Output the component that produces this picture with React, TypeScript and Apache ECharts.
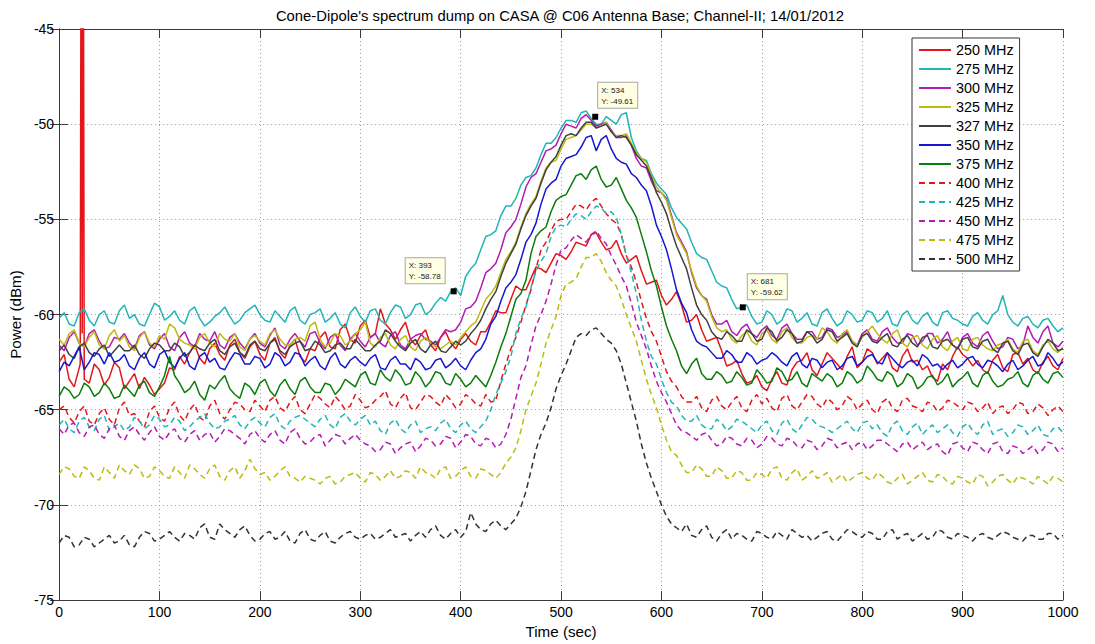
import React, { useEffect, useRef } from "react";
import * as echarts from "echarts";

const TITLE = "Cone-Dipole's spectrum dump on CASA @ C06 Antenna Base; Channel-II; 14/01/2012";
const X_NAME = "Time (sec)";
const Y_NAME = "Power (dBm)";

// sample times (s): main grid every 10 s, and the in-between samples at 5, 15, ...
const T = Array.from({ length: 101 }, (_, i) => i * 10);
const T_MID = Array.from({ length: 100 }, (_, i) => i * 10 + 5);

// extra samples of the 250 MHz trace around its spike
const SPIKE_T = [21, 22, 23, 24];
const SPIKE_V = [-62.6, -35, -61.0, -35];

const S250 = [
  -62.5, -63.4, -62.8, -63.6, -62.9, -63.3, -62.8, -63.5, -63.9, -63.7,
  -63.9, -62.8, -62.2, -62.0, -62.3, -61.8, -62.1, -61.6, -62.0, -61.7,
  -62.1, -61.5, -62.0, -61.6, -62.2, -61.8, -61.2, -61.7, -60.8, -61.3,
  -60.6, -61.2, -59.7, -60.8, -60.8, -61.3, -61.1, -61.6, -61.2, -61.5,
  -61.3, -61.4, -60.9, -60.4, -59.9, -59.2, -58.7, -58.1, -57.6, -57.3,
  -56.9, -56.7, -56.3, -55.8, -56.2, -56.5, -56.8, -57.1, -57.7, -58.3,
  -59.0, -59.2, -59.5, -60.3, -60.8, -61.3, -61.9, -62.6, -63.1, -63.5,
  -63.8, -63.4, -63.6, -62.9, -62.4, -62.9, -62.6, -62.3, -62.9, -61.7,
  -62.5, -62.0, -62.3, -62.8, -62.2, -62.5, -62.9, -63.3, -62.6, -62.2,
  -62.1, -62.7, -62.9, -62.4, -62.8, -62.1, -62.6, -62.9, -62.5, -62.7,
  -62.3,
];
const S250_MID = [
  -62.1, -63.8, -63.4, -62.6, -63.7, -62.5, -63.9, -63.1, -63.3, -64.2,
  -63.6, -62.9, -62.6, -61.6, -62.6, -61.5, -62.4, -61.3, -62.3, -61.4,
  -62.4, -61.2, -62.3, -61.3, -62.5, -61.9, -60.9, -61.8, -60.5, -61.5,
  -60.3, -61.0, -60.5, -61.3, -60.4, -61.6, -60.8, -61.9, -60.9, -61.8,
  -61.0, -61.6, -60.9, -59.8, -59.9, -58.5, -58.7, -57.5, -57.8, -56.8,
  -57.1, -56.2, -56.4, -55.7, -56.6, -56.1, -57.3, -56.9, -58.4, -58.2,
  -59.5, -58.8, -60.4, -60.0, -61.4, -61.2, -62.7, -62.4, -63.6, -63.2,
  -64.0, -63.0, -63.7, -62.5, -62.0, -63.2, -62.0, -62.6, -62.2, -62.8,
  -61.8, -62.6, -62.0, -63.0, -61.8, -62.4, -62.7, -63.5, -62.9, -61.7,
  -62.3, -62.4, -63.1, -62.1, -63.0, -62.0, -62.3, -63.1, -62.2, -62.9,
];
const S275 = [
  -60.2, -60.5, -59.9, -60.3, -60.0, -60.4, -59.8, -60.2, -60.5, -60.0,
  -59.6, -60.1, -60.3, -59.8, -60.2, -60.4, -59.9, -60.1, -60.3, -59.7,
  -60.0, -60.4, -60.1, -59.8, -60.3, -60.0, -59.7, -60.2, -60.5, -59.9,
  -60.1, -59.8, -60.3, -59.9, -59.6, -60.0, -59.4, -59.8, -59.1, -58.8,
  -59.0, -57.6, -56.6, -55.8, -54.8, -54.3, -53.2, -52.7, -51.6, -51.0,
  -50.2, -49.8, -49.4, -49.7, -50.0, -49.8, -49.5, -50.7, -51.8, -52.6,
  -53.4, -54.4, -55.2, -56.2, -57.0, -57.7, -58.5, -59.2, -59.6, -60.1,
  -60.4, -60.0, -60.3, -59.8, -60.2, -60.5, -59.9, -60.2, -60.4, -60.0,
  -60.3, -59.9, -60.2, -60.5, -60.0, -60.3, -60.1, -60.4, -59.9, -60.2,
  -60.5, -60.1, -60.3, -60.0, -59.0, -60.4, -60.2, -60.5, -60.3, -60.6,
  -60.7,
];
const S275_MID = [
  -59.9, -60.6, -59.7, -60.6, -59.8, -60.5, -59.5, -60.0, -60.6, -59.4,
  -60.3, -59.8, -60.5, -59.6, -60.6, -60.1, -59.6, -60.5, -59.9, -59.5,
  -60.3, -59.8, -60.4, -59.6, -60.5, -59.9, -60.4, -59.9, -60.7, -59.6,
  -60.4, -59.7, -60.5, -59.5, -60.2, -59.5, -60.0, -59.4, -59.3, -58.6,
  -58.0, -57.3, -55.9, -55.6, -54.3, -53.9, -52.8, -52.3, -51.0, -50.7,
  -49.8, -49.9, -49.3, -50.0, -49.6, -50.0, -49.4, -51.4, -51.9, -53.1,
  -53.7, -54.9, -55.5, -56.8, -57.1, -58.3, -58.6, -59.7, -59.5, -60.5,
  -59.8, -60.5, -59.7, -60.4, -59.9, -60.6, -59.7, -60.6, -59.8, -60.4,
  -59.8, -60.4, -59.8, -60.6, -59.8, -60.5, -59.9, -60.6, -59.8, -60.3,
  -60.6, -59.9, -60.5, -59.8, -60.0, -60.6, -60.1, -60.7, -60.2, -60.9,
];
const S300 = [
  -61.6, -61.2, -61.5, -61.0, -61.4, -61.7, -61.3, -61.5, -61.1, -61.6,
  -61.3, -61.7, -61.2, -61.5, -61.0, -61.4, -61.6, -61.2, -61.5, -61.3,
  -61.5, -61.1, -61.6, -61.3, -61.4, -61.0, -61.5, -61.2, -61.6, -61.3,
  -61.4, -61.2, -61.5, -61.1, -61.6, -61.3, -61.0, -61.4, -61.2, -60.9,
  -60.4, -59.6, -58.6, -57.6, -56.6, -55.4, -54.2, -52.8, -52.0, -51.3,
  -50.5, -50.1, -49.7, -49.8, -50.0, -50.3, -50.7, -51.1, -52.2, -53.0,
  -53.6, -54.8, -56.2, -57.8, -59.0, -60.0, -60.5, -60.9, -60.7, -61.0,
  -60.8, -61.1, -60.7, -61.0, -61.3, -60.9, -61.2, -60.8, -61.1, -61.4,
  -61.0, -61.3, -60.9, -61.2, -61.5, -61.1, -61.4, -61.0, -61.3, -61.6,
  -61.2, -61.5, -61.1, -61.4, -61.7, -61.3, -61.6, -61.2, -60.9, -61.5,
  -61.4,
];
const S300_MID = [
  -61.9, -60.9, -61.7, -60.8, -61.8, -61.2, -61.0, -61.8, -60.9, -61.8,
  -61.0, -61.9, -60.9, -61.7, -61.3, -60.9, -61.8, -61.0, -61.8, -61.0,
  -61.7, -60.7, -61.8, -61.0, -61.7, -60.9, -61.8, -61.0, -61.9, -61.0,
  -61.7, -61.0, -61.7, -60.9, -61.8, -61.1, -61.3, -61.6, -60.8, -60.8,
  -59.7, -59.3, -57.8, -57.3, -55.7, -55.0, -53.3, -52.6, -51.4, -51.1,
  -50.0, -50.2, -49.5, -50.1, -49.9, -50.7, -50.6, -51.8, -52.3, -53.5,
  -53.9, -55.7, -56.7, -58.6, -59.2, -60.5, -60.3, -61.1, -60.5, -61.2,
  -60.6, -61.3, -60.5, -61.3, -60.9, -61.3, -60.7, -61.2, -60.9, -61.6,
  -60.8, -61.4, -60.7, -61.5, -61.0, -61.6, -61.0, -61.5, -60.9, -61.8,
  -61.0, -61.7, -60.9, -61.8, -61.2, -61.8, -60.6, -61.5, -60.6, -61.7,
];
const S325 = [
  -61.3, -61.0, -61.5, -61.2, -61.6, -61.1, -61.4, -61.7, -61.2, -61.5,
  -61.1, -60.5, -61.3, -61.6, -61.2, -61.5, -61.0, -61.4, -61.7, -61.3,
  -61.4, -61.0, -61.3, -61.6, -61.2, -60.6, -61.3, -61.5, -61.1, -61.4,
  -60.8, -61.5, -61.2, -61.6, -61.3, -61.7, -61.4, -61.5, -61.8, -61.4,
  -61.2, -60.6, -59.8, -58.9, -57.8, -56.7, -55.4, -54.2, -53.0, -52.0,
  -51.3, -50.7, -50.3, -50.0, -50.1, -50.4, -50.6, -51.0, -51.8, -52.7,
  -53.6, -54.9, -56.3, -57.7, -59.0, -60.1, -60.9, -61.3, -61.1, -61.4,
  -61.0, -61.3, -60.9, -61.2, -61.5, -61.1, -60.7, -61.3, -61.0, -61.4,
  -61.2, -60.6, -61.3, -61.0, -61.5, -61.2, -61.6, -61.3, -61.7, -61.4,
  -61.8, -61.3, -61.6, -61.9, -61.5, -61.8, -61.4, -61.9, -61.6, -61.8,
  -61.7,
];
const S325_MID = [
  -61.6, -60.8, -61.7, -60.9, -61.8, -60.8, -61.1, -61.9, -60.9, -61.7,
  -61.3, -60.7, -61.5, -61.8, -61.0, -61.7, -61.3, -61.0, -61.9, -61.1,
  -61.6, -60.8, -61.6, -61.3, -61.4, -60.4, -61.7, -61.0, -61.6, -61.0,
  -60.4, -61.7, -61.0, -61.8, -61.1, -61.9, -61.2, -61.7, -61.6, -61.6,
  -60.9, -60.4, -59.2, -58.5, -57.1, -56.2, -54.7, -53.8, -52.3, -51.9,
  -50.8, -50.6, -50.0, -50.2, -49.9, -50.6, -50.5, -51.5, -52.0, -53.3,
  -54.0, -55.8, -56.8, -58.5, -59.3, -60.7, -60.8, -61.5, -60.9, -61.6,
  -60.8, -61.5, -60.7, -61.5, -61.2, -61.3, -60.9, -61.5, -60.8, -61.6,
  -60.9, -61.0, -61.5, -60.8, -61.7, -61.1, -61.8, -61.1, -61.9, -61.2,
  -61.9, -61.2, -61.8, -61.6, -61.3, -62.0, -61.3, -62.1, -61.4, -62.0,
];
const S327 = [
  -61.9, -62.1, -61.7, -62.0, -61.8, -62.2, -61.6, -61.9, -62.1, -61.8,
  -61.6, -61.9, -61.7, -62.0, -61.8, -61.5, -61.9, -61.7, -62.0, -61.6,
  -61.8, -61.5, -61.9, -61.7, -61.4, -61.8, -61.6, -61.9, -61.5, -61.8,
  -61.6, -61.9, -61.4, -61.0, -61.7, -61.5, -61.8, -61.6, -61.9, -61.7,
  -61.6, -61.0, -60.3, -59.2, -58.0, -56.8, -55.5, -54.3, -53.1, -52.0,
  -51.1, -50.5, -50.2, -49.9, -50.1, -50.4, -50.6, -51.1, -51.9, -52.8,
  -54.1, -55.6, -57.0, -58.6, -60.0, -60.9, -61.3, -61.1, -61.4, -61.0,
  -61.3, -60.9, -61.2, -61.0, -61.4, -61.1, -61.3, -60.9, -61.2, -61.5,
  -61.1, -61.4, -61.2, -61.6, -61.3, -61.5, -61.2, -61.7, -61.4, -61.6,
  -61.3, -61.7, -61.4, -61.8, -61.5, -61.9, -61.6, -62.0, -61.7, -61.5,
  -61.8,
];
const S327_MID = [
  -61.6, -62.3, -61.5, -62.2, -61.6, -61.9, -61.9, -61.6, -62.3, -61.5,
  -61.9, -61.5, -62.2, -61.6, -61.9, -61.3, -62.1, -61.5, -62.2, -61.4,
  -61.9, -61.3, -62.1, -61.5, -61.9, -61.4, -62.0, -61.6, -61.8, -61.3,
  -61.9, -61.6, -60.8, -61.4, -61.9, -61.3, -62.0, -61.4, -62.0, -61.4,
  -61.4, -60.7, -59.7, -58.8, -57.3, -56.3, -54.8, -53.9, -52.4, -51.7,
  -50.6, -50.6, -49.9, -50.2, -50.0, -50.7, -50.7, -51.6, -52.2, -53.6,
  -54.7, -56.4, -57.6, -59.5, -60.3, -61.2, -60.9, -61.4, -60.8, -61.4,
  -60.7, -61.4, -60.8, -61.5, -60.9, -61.5, -60.8, -61.4, -61.0, -61.7,
  -61.0, -61.5, -61.0, -61.7, -61.1, -61.7, -61.1, -61.8, -61.3, -61.8,
  -61.2, -61.8, -61.3, -62.0, -61.4, -62.1, -61.5, -62.2, -61.3, -61.9,
];
const S350 = [
  -63.0, -62.7, -61.7, -62.5, -62.1, -62.0, -62.4, -62.7, -62.3, -62.6,
  -62.1, -62.5, -62.3, -62.7, -62.2, -62.5, -62.8, -62.4, -62.1, -62.6,
  -62.3, -62.6, -62.2, -62.5, -62.1, -62.4, -62.7, -62.3, -62.6, -62.4,
  -62.5, -62.3, -62.8, -62.4, -62.6, -62.9, -62.5, -62.8, -62.3, -62.6,
  -62.7, -62.4, -61.8, -60.5, -59.3, -58.3, -57.1, -55.8, -54.2, -53.1,
  -52.2, -51.7, -51.2, -50.6, -50.8, -51.3, -52.0, -52.6, -53.2, -54.3,
  -55.9, -57.6, -59.4, -60.8, -61.6, -62.0, -62.3, -62.1, -62.5, -62.2,
  -62.4, -62.0, -62.5, -62.2, -62.6, -62.3, -62.8, -62.4, -62.7, -62.2,
  -62.5, -62.1, -62.6, -62.3, -62.8, -62.4, -62.1, -62.7, -62.9, -62.4,
  -62.6, -62.2, -62.8, -62.5, -63.0, -62.4, -62.7, -62.2, -62.6, -62.3,
  -62.5,
];
const S350_MID = [
  -62.5, -62.2, -62.9, -62.0, -62.6, -62.5, -62.1, -62.9, -62.0, -62.8,
  -61.9, -62.8, -62.0, -62.9, -62.0, -62.3, -62.9, -62.0, -62.6, -62.2,
  -62.8, -62.0, -62.7, -62.0, -62.7, -62.2, -62.9, -62.0, -62.8, -62.2,
  -62.7, -62.1, -62.9, -62.2, -62.6, -62.3, -62.9, -62.4, -62.8, -62.3,
  -62.9, -62.0, -61.3, -60.1, -58.6, -57.9, -56.2, -55.2, -53.4, -52.9,
  -51.8, -51.6, -50.7, -51.4, -50.6, -51.8, -52.1, -52.8, -53.5, -55.3,
  -56.6, -58.7, -59.9, -61.4, -61.7, -62.3, -61.9, -62.5, -62.0, -62.6,
  -62.3, -62.2, -62.7, -62.0, -62.8, -62.4, -62.5, -62.9, -62.3, -62.7,
  -62.2, -62.5, -62.0, -62.6, -62.5, -62.7, -62.3, -62.6, -62.6, -62.8,
  -62.3, -62.6, -62.4, -62.7, -62.6, -62.9, -62.4, -62.7, -62.0, -62.7,
];
const S375 = [
  -64.3, -64.0, -64.2, -63.8, -64.1, -63.9, -64.3, -64.0, -63.7, -64.1,
  -63.8, -62.2, -63.6, -63.9, -64.2, -63.7, -63.5, -63.9, -64.4, -63.8,
  -63.6, -64.0, -63.7, -63.9, -63.5, -63.8, -64.1, -63.7, -63.9, -63.6,
  -63.2, -63.6, -62.9, -63.5, -63.2, -63.6, -63.3, -63.5, -63.1, -63.7,
  -63.4, -63.6, -63.5, -63.2, -61.7, -60.1, -58.9, -56.8, -55.6, -54.6,
  -53.8, -53.2, -52.6, -52.4, -52.9, -53.2, -53.4, -54.4, -55.8, -57.7,
  -59.6, -61.3, -62.7, -62.6, -63.1, -63.4, -63.2, -63.5, -63.3, -63.6,
  -63.2, -63.5, -63.0, -63.4, -63.6, -63.1, -63.5, -63.3, -63.6, -63.2,
  -63.4, -63.0, -63.5, -63.2, -63.6, -63.3, -63.7, -63.2, -63.5, -63.8,
  -63.3, -63.6, -63.2, -63.5, -63.7, -63.3, -63.6, -63.2, -63.4, -63.1,
  -63.3,
];
const S375_MID = [
  -63.8, -64.4, -63.6, -64.3, -63.6, -64.4, -63.7, -64.3, -63.5, -64.3,
  -63.2, -63.2, -64.1, -63.5, -64.5, -63.9, -63.2, -64.2, -63.6, -64.2,
  -63.4, -64.3, -63.4, -64.2, -63.3, -64.1, -63.6, -64.2, -63.4, -63.8,
  -63.0, -63.7, -63.3, -62.9, -63.7, -63.0, -63.8, -63.0, -63.6, -63.1,
  -63.8, -63.2, -63.8, -62.5, -61.0, -59.2, -58.2, -55.9, -55.4, -54.0,
  -53.7, -52.7, -52.9, -52.2, -53.3, -52.8, -54.0, -54.9, -56.7, -58.5,
  -60.6, -61.9, -63.1, -62.3, -63.4, -63.0, -63.6, -63.0, -63.7, -62.9,
  -63.6, -62.8, -63.5, -63.0, -63.8, -63.3, -63.1, -63.8, -63.0, -63.6,
  -62.7, -63.4, -63.0, -63.8, -63.1, -63.9, -63.3, -63.7, -63.1, -63.5,
  -63.0, -63.8, -63.0, -63.8, -63.4, -63.0, -63.8, -63.0, -63.6, -63.0,
];
const S400 = [
  -65.0, -65.4, -65.1, -65.6, -65.2, -65.5, -64.9, -65.3, -65.6, -65.1,
  -65.4, -64.9, -65.3, -65.0, -65.4, -64.8, -65.2, -65.0, -64.7, -65.1,
  -64.8, -64.5, -64.9, -64.6, -65.0, -64.7, -64.4, -64.9, -64.6, -64.8,
  -64.5, -64.8, -64.3, -64.7, -64.4, -64.9, -64.6, -64.3, -64.8, -64.5,
  -64.7, -64.4, -64.8, -64.6, -63.5, -61.8, -60.4, -58.7, -56.6, -55.6,
  -55.0, -54.6, -54.3, -54.1, -54.3, -55.0, -55.8, -57.5, -59.3, -60.9,
  -62.2, -63.5, -64.3, -64.6, -64.9, -64.5, -64.8, -64.6, -64.9, -64.5,
  -64.7, -64.9, -64.4, -64.8, -64.6, -64.3, -64.9, -64.6, -64.8, -64.5,
  -64.7, -65.0, -64.6, -64.9, -64.5, -64.8, -65.1, -64.7, -64.9, -64.6,
  -65.0, -64.7, -64.9, -65.2, -64.8, -65.0, -64.7, -65.1, -64.9, -65.0,
  -65.1,
];
const S400_MID = [
  -64.8, -65.7, -64.8, -65.8, -64.9, -65.8, -64.6, -65.2, -65.9, -64.8,
  -65.6, -64.6, -65.6, -64.7, -65.6, -64.5, -65.5, -64.6, -65.0, -64.5,
  -65.1, -64.3, -65.1, -64.3, -65.2, -64.2, -64.7, -64.3, -65.0, -64.2,
  -64.9, -64.5, -64.0, -64.9, -64.1, -65.0, -64.2, -64.6, -64.2, -64.9,
  -64.2, -64.7, -64.2, -64.5, -62.6, -61.2, -59.5, -57.6, -56.2, -55.1,
  -55.0, -54.2, -54.5, -53.9, -54.7, -55.2, -56.9, -58.3, -60.2, -61.4,
  -63.0, -63.8, -64.6, -64.3, -65.1, -64.3, -65.0, -64.3, -65.1, -64.2,
  -64.4, -65.1, -64.2, -65.0, -64.2, -64.7, -64.4, -65.0, -64.3, -65.0,
  -64.5, -65.2, -64.4, -65.1, -64.4, -64.9, -64.6, -65.1, -64.5, -64.8,
  -64.6, -65.1, -64.6, -64.9, -65.2, -64.6, -65.2, -64.7, -65.3, -64.8,
];
const S425 = [
  -65.8, -66.0, -65.6, -65.9, -65.5, -66.1, -65.7, -65.9, -65.6, -65.8,
  -65.5, -65.8, -65.6, -65.9, -65.4, -65.7, -65.9, -65.5, -65.8, -65.6,
  -65.7, -65.4, -65.8, -65.6, -65.3, -65.7, -65.5, -65.8, -65.4, -65.6,
  -65.5, -65.8, -66.1, -65.7, -66.0, -65.8, -66.2, -65.9, -65.7, -66.0,
  -65.8, -66.0, -65.9, -65.0, -63.6, -62.2, -60.2, -58.6, -57.2, -55.9,
  -55.3, -55.0, -54.8, -54.6, -54.4, -54.6, -55.8, -57.8, -60.3, -62.2,
  -63.4, -64.6, -65.3, -65.6, -65.8, -66.0, -65.7, -65.9, -65.6, -66.0,
  -65.8, -66.1, -65.7, -66.0, -65.8, -65.5, -65.9, -66.2, -65.8, -66.0,
  -65.7, -66.0, -66.2, -65.8, -66.1, -65.9, -66.3, -65.8, -66.0, -66.2,
  -65.9, -66.1, -65.8, -66.3, -66.0, -66.2, -65.9, -66.1, -66.3, -66.0,
  -66.2,
];
const S425_MID = [
  -65.5, -66.2, -65.4, -66.1, -65.3, -65.9, -66.1, -65.4, -66.0, -65.3,
  -65.9, -65.4, -66.1, -65.6, -65.2, -66.0, -65.6, -65.3, -66.0, -65.4,
  -65.9, -65.2, -66.0, -65.4, -65.5, -65.9, -65.3, -66.0, -65.2, -65.8,
  -65.3, -65.6, -66.3, -65.5, -66.2, -65.6, -66.0, -66.1, -65.5, -66.2,
  -65.6, -66.2, -65.6, -64.2, -63.0, -61.0, -59.6, -57.7, -56.8, -55.4,
  -55.4, -54.7, -55.0, -54.3, -54.7, -54.9, -56.9, -58.9, -61.4, -62.6,
  -64.1, -64.8, -65.6, -65.3, -66.0, -65.5, -66.1, -65.5, -65.8, -66.2,
  -65.6, -66.3, -65.5, -66.2, -65.4, -65.8, -66.0, -66.0, -65.6, -66.2,
  -65.6, -65.8, -66.4, -65.6, -66.3, -65.7, -66.0, -66.2, -65.8, -66.4,
  -65.7, -66.3, -65.6, -66.1, -66.4, -65.8, -66.3, -65.8, -66.4, -65.9,
];
const S450 = [
  -66.0, -65.8, -66.2, -65.9, -66.3, -66.0, -66.4, -66.1, -66.3, -66.2,
  -66.4, -66.2, -66.5, -66.3, -66.6, -66.2, -66.4, -66.1, -66.5, -66.3,
  -66.5, -66.3, -66.6, -66.2, -66.5, -66.7, -66.3, -66.6, -66.4, -66.5,
  -66.6, -66.9, -67.1, -66.8, -67.0, -66.7, -66.9, -66.6, -66.8, -66.5,
  -66.7, -66.4, -66.9, -66.6, -66.8, -65.5, -63.3, -61.6, -60.0, -58.4,
  -56.6, -56.1, -56.0, -55.8, -56.0, -56.9, -58.0, -59.4, -61.1, -62.7,
  -64.1, -65.2, -66.1, -66.4, -66.3, -66.6, -66.8, -66.5, -66.9, -66.6,
  -66.8, -66.5, -66.9, -66.6, -67.0, -66.7, -66.9, -66.6, -66.8, -67.1,
  -66.7, -66.9, -66.6, -67.0, -66.8, -67.1, -66.7, -66.9, -67.2, -66.8,
  -67.0, -66.7, -67.1, -66.8, -67.2, -66.9, -67.3, -66.9, -67.1, -66.8,
  -67.0,
];
const S450_MID = [
  -66.3, -65.7, -66.4, -65.8, -66.5, -65.8, -66.6, -65.9, -66.6, -65.9,
  -66.6, -66.0, -66.7, -66.1, -66.3, -66.7, -66.0, -66.3, -66.8, -66.1,
  -66.7, -66.1, -66.8, -66.0, -66.8, -66.4, -66.9, -66.3, -66.8, -66.3,
  -66.8, -67.2, -66.7, -67.3, -66.8, -67.2, -66.5, -66.9, -66.4, -67.0,
  -66.3, -66.8, -66.5, -67.0, -66.3, -64.4, -62.7, -60.6, -59.3, -57.4,
  -56.5, -55.8, -56.2, -55.6, -56.3, -57.4, -58.5, -60.4, -61.8, -63.5,
  -64.6, -65.8, -66.2, -66.6, -66.2, -66.9, -66.4, -66.8, -66.5, -67.0,
  -66.4, -66.8, -66.5, -66.9, -66.6, -67.1, -66.5, -67.0, -66.7, -66.8,
  -67.1, -66.6, -66.8, -67.2, -66.7, -66.9, -67.1, -66.8, -67.4, -66.7,
  -67.2, -66.8, -67.3, -66.7, -67.3, -67.0, -67.1, -67.3, -66.7, -67.2,
];
const S475 = [
  -68.4, -68.1, -68.6, -68.2, -68.7, -68.3, -67.9, -68.4, -68.1, -68.5,
  -68.2, -68.6, -68.3, -67.9, -68.4, -68.1, -68.5, -68.2, -68.6, -67.6,
  -68.4, -68.7, -68.2, -68.5, -68.8, -68.6, -68.9, -68.5, -68.8, -68.4,
  -68.6, -68.3, -68.7, -68.2, -68.5, -68.3, -68.0, -68.4, -68.1, -68.6,
  -68.2, -68.5, -68.1, -68.4, -68.3, -67.5, -66.1, -64.3, -62.6, -60.8,
  -59.0, -58.3, -57.5, -57.0, -57.2, -58.2, -59.2, -60.7, -62.4, -64.2,
  -65.8, -67.2, -67.9, -68.3, -68.1, -68.5, -68.2, -68.6, -68.3, -68.7,
  -68.4, -68.1, -68.6, -68.3, -68.7, -68.2, -68.5, -68.8, -68.4, -68.6,
  -68.3, -68.7, -68.5, -68.9, -68.4, -68.7, -68.3, -68.8, -68.5, -68.9,
  -68.6, -68.9, -68.5, -68.8, -68.4, -68.9, -68.6, -68.9, -68.7, -68.5,
  -68.8,
];
const S475_MID = [
  -68.0, -68.5, -68.0, -68.6, -68.0, -68.6, -68.2, -67.9, -68.6, -68.0,
  -68.5, -68.0, -68.6, -68.1, -68.6, -67.9, -68.7, -68.0, -68.2, -68.1,
  -68.3, -68.5, -68.0, -68.6, -68.5, -68.7, -68.6, -68.9, -68.5, -68.3,
  -68.8, -68.4, -68.5, -68.6, -68.2, -68.6, -68.3, -68.6, -68.0, -68.5,
  -68.0, -68.6, -68.2, -68.6, -67.8, -67.0, -65.0, -63.6, -61.5, -60.1,
  -58.4, -58.1, -57.0, -56.8, -57.8, -58.5, -60.0, -61.4, -63.4, -64.9,
  -66.6, -67.4, -68.3, -67.9, -68.5, -68.0, -68.6, -68.2, -68.7, -68.3,
  -68.6, -68.0, -68.7, -68.1, -68.5, -68.6, -68.3, -68.6, -68.8, -68.4,
  -68.6, -68.3, -68.8, -68.6, -68.9, -68.5, -68.7, -68.4, -68.8, -68.5,
  -68.8, -68.4, -69.0, -68.5, -68.7, -68.5, -68.7, -68.5, -68.9, -68.6,
];
const S500 = [
  -72.0, -71.7, -72.1, -71.8, -72.0, -71.6, -71.9, -72.1, -71.7, -71.5,
  -71.8, -71.4, -71.9, -71.6, -71.2, -71.7, -71.0, -71.5, -71.3, -71.6,
  -71.8, -71.4, -71.7, -71.9, -71.5, -71.8, -71.6, -71.9, -71.7, -71.4,
  -71.8, -71.5, -71.7, -71.3, -71.6, -71.9, -71.4, -71.3, -71.6, -71.5,
  -71.7, -70.4, -71.3, -71.0, -71.1, -71.0, -70.1, -68.2, -66.3, -64.9,
  -63.2, -61.9, -61.0, -60.8, -61.0, -61.5, -62.6, -64.6, -66.8, -68.6,
  -70.0, -71.0, -71.4, -71.6, -71.3, -71.7, -71.5, -71.8, -71.6, -71.9,
  -71.5, -71.8, -71.6, -71.3, -71.7, -71.9, -71.5, -71.8, -71.6, -71.4,
  -71.7, -71.5, -71.8, -71.3, -71.6, -71.9, -71.5, -71.7, -71.4, -71.8,
  -71.6, -71.9, -71.5, -71.8, -71.4, -71.7, -71.9, -71.6, -71.8, -71.5,
  -71.6,
];
const S500_MID = [
  -71.6, -72.2, -71.7, -72.2, -71.8, -72.0, -71.6, -72.2, -71.4, -71.9,
  -71.6, -71.7, -71.5, -71.8, -71.0, -71.8, -71.3, -71.7, -71.1, -71.9,
  -71.5, -71.8, -71.4, -72.0, -71.3, -71.9, -71.4, -72.0, -71.5, -71.7,
  -71.6, -71.8, -71.5, -71.7, -71.5, -71.6, -71.7, -71.1, -71.8, -71.3,
  -71.4, -71.0, -71.4, -70.8, -71.3, -70.7, -69.3, -67.1, -65.7, -63.9,
  -62.6, -61.2, -61.1, -60.7, -61.3, -61.9, -63.6, -65.6, -67.8, -69.3,
  -70.6, -71.2, -71.0, -71.7, -71.1, -71.9, -71.3, -71.5, -71.8, -71.4,
  -71.7, -71.4, -71.8, -71.5, -71.6, -71.7, -71.4, -71.9, -71.3, -71.6,
  -71.4, -71.8, -71.4, -71.8, -71.5, -71.7, -71.8, -71.3, -71.7, -71.5,
  -71.7, -71.6, -71.7, -71.6, -71.5, -71.8, -71.6, -71.8, -71.5, -71.8,
];

const NAMES = [
  "250 MHz", "275 MHz", "300 MHz", "325 MHz", "327 MHz", "350 MHz",
  "375 MHz", "400 MHz", "425 MHz", "450 MHz", "475 MHz", "500 MHz",
];
const VALUES = [S250, S275, S300, S325, S327, S350, S375, S400, S425, S450, S475, S500];
const MIDS = [
  S250_MID, S275_MID, S300_MID, S325_MID, S327_MID, S350_MID,
  S375_MID, S400_MID, S425_MID, S450_MID, S475_MID, S500_MID,
];
const COLORS = [
  "#e3161b", "#21b5b8", "#b31bb3", "#bcbc10", "#404040", "#1616cf",
  "#0b7d0b", "#e3161b", "#21b5b8", "#b31bb3", "#bcbc10", "#333333",
];
const DASHED = [false, false, false, false, false, false, false, true, true, true, true, true];

// data tips on the 275 MHz trace
const TIP_X = [393, 534, 681];
const TIP_Y = [-58.78, -49.61, -59.62];

const FONT = "'Liberation Sans', Arial, Helvetica, sans-serif";
const AXIS_COLOR = "#3a3a3a";

function buildSeries() {
  return NAMES.map((name, k) => {
    let data: number[][] = T.map((t, i) => [t, VALUES[k][i]]);
    data = data.concat(T_MID.map((t, i) => [t, MIDS[k][i]]));
    if (k === 0) data = data.concat(SPIKE_T.map((t, i) => [t, SPIKE_V[i]]));
    data.sort((a, b) => a[0] - b[0]);
    const s: any = {
      name,
      type: "line",
      data,
      symbol: "none",
      showSymbol: false,
      lineStyle: {
        color: COLORS[k],
        width: 1.5,
        type: DASHED[k] ? [6, 4] : "solid",
      },
      itemStyle: { color: COLORS[k] },
      emphasis: { disabled: true },
    };
    if (k === 1) {
      const offsets = [[-45, -30], [6, -31], [8, -30]];
      s.markPoint = {
        symbol: "rect",
        symbolSize: 6,
        itemStyle: { color: "#000" },
        z: 20,
        data: TIP_X.map((x, i) => ({
          coord: [x, TIP_Y[i]],
          label: {
            show: true,
            position: offsets[i],
            formatter: `X: ${x}\nY: ${TIP_Y[i]}`,
            fontFamily: FONT,
            fontSize: 8,
            lineHeight: 11,
            color: "#222",
            backgroundColor: "#ffffe3",
            borderColor: "#a8a8a0",
            borderWidth: 1,
            padding: [2, 4, 1, 3],
          },
        })),
      };
    }
    return s;
  });
}

export default function App() {
  const ref = useRef<HTMLDivElement>(null);
  useEffect(() => {
    if (!ref.current) return;
    const chart = echarts.init(ref.current, null, { renderer: "svg" });
    const tick = { show: true, inside: true, length: 9, lineStyle: { color: AXIS_COLOR, width: 1 } };
    const line = { show: true, lineStyle: { color: AXIS_COLOR, width: 1 } };
    const grid = { show: true, lineStyle: { color: "#9a9a9a", width: 1, type: [1, 3] } };
    chart.setOption({
      animation: false,
      backgroundColor: "#ffffff",
      textStyle: { fontFamily: FONT },
      title: {
        text: TITLE,
        left: 555,
        top: 3,
        textAlign: "center",
        textStyle: { fontFamily: FONT, fontSize: 14.8, fontWeight: "normal", color: "#000" },
      },
      legend: {
        orient: "vertical",
        left: 912,
        top: 38,
        padding: [5, 6, 5, 6],
        itemWidth: 32,
        itemHeight: 12,
        itemGap: 5,
        backgroundColor: "#ffffff",
        borderColor: "#333",
        borderWidth: 1,
        borderRadius: 0,
        itemStyle: { opacity: 0 },
        textStyle: { fontFamily: FONT, fontSize: 14.4, color: "#000" },
        data: NAMES,
        z: 30,
      },
      grid: { left: 56, top: 29, width: 1007, height: 576, containLabel: false },
      xAxis: [
        {
          type: "value",
          position: "bottom",
          min: 0,
          max: 1000,
          interval: 100,
          name: X_NAME,
          nameLocation: "middle",
          nameGap: 20,
          nameTextStyle: { fontFamily: FONT, fontSize: 15.2, color: "#000" },
          axisLine: line,
          axisTick: tick,
          axisLabel: {
            fontFamily: FONT,
            fontSize: 14,
            color: "#000",
            margin: 5,
            formatter: (v: number) => String(v),
          },
          splitLine: grid,
        },
        {
          type: "value",
          position: "top",
          min: 0,
          max: 1000,
          interval: 100,
          axisLine: line,
          axisTick: tick,
          axisLabel: { show: false },
          splitLine: { show: false },
        },
      ],
      yAxis: [
        {
          type: "value",
          position: "left",
          min: -75,
          max: -45,
          interval: 5,
          name: Y_NAME,
          nameLocation: "middle",
          nameGap: 32,
          nameTextStyle: { fontFamily: FONT, fontSize: 15.2, color: "#000" },
          axisLine: line,
          axisTick: tick,
          axisLabel: { fontFamily: FONT, fontSize: 14, color: "#000", margin: 5 },
          splitLine: grid,
        },
        {
          type: "value",
          position: "right",
          min: -75,
          max: -45,
          interval: 5,
          axisLine: line,
          axisTick: tick,
          axisLabel: { show: false },
          splitLine: { show: false },
        },
      ],
      series: buildSeries(),
    });
    return () => chart.dispose();
  }, []);
  return (
    <div
      ref={ref}
      style={{ position: "fixed", left: 0, top: 0, width: 1095, height: 644, background: "#fff" }}
    />
  );
}
